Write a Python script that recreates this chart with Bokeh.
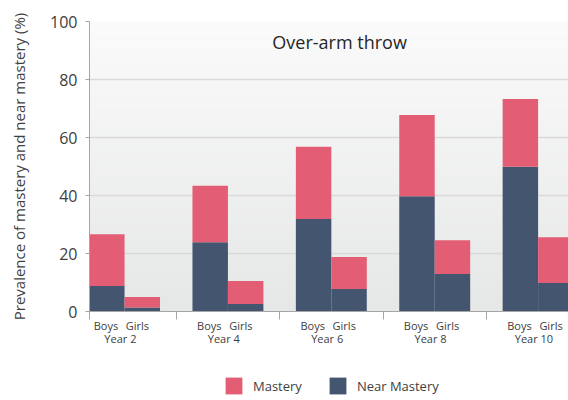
import numpy as np
from bokeh.plotting import figure
from bokeh.layouts import column
from bokeh.models import (ColumnDataSource, LinearAxis, FixedTicker, Range1d,
                          Label, Legend, LegendItem)
from bokeh.embed import file_html
from bokeh.resources import INLINE

# ---------------- data ----------------
years = ["Year 2", "Year 4", "Year 6", "Year 8", "Year 10"]
sexes = ["Boys", "Girls"]
boys_near = [8.8, 23.9, 31.9, 39.7, 49.9]
boys_mastery = [17.8, 19.5, 24.9, 28.1, 23.4]
girls_near = [1.4, 2.6, 7.8, 12.9, 9.8]
girls_mastery = [3.6, 7.9, 11.0, 11.7, 15.8]
y_ticks = [0, 20, 40, 60, 80, 100]
series_names = ["Mastery", "Near Mastery"]
title_text = "Over-arm throw"
y_label = "Prevalence of mastery and near mastery (%)"

# ---------------- style ----------------
PINK = "#E35E75"
NAVY = "#445570"
FONT = "Open Sans"
TXT = "#404040"
AXC = "#a6a6a6"
GRID = "#d9d9d9"

n = len(years)
idx = np.arange(n, dtype=float)
bar_w = 0.343
boys_x = idx - bar_w / 2
girls_x = idx + bar_w / 2

x_all = list(boys_x) + list(girls_x)
near_all = boys_near + girls_near
mast_all = boys_mastery + girls_mastery
top_all = [a + b for a, b in zip(near_all, mast_all)]
src = ColumnDataSource(dict(x=x_all, near=near_all, top=top_all))

xr = Range1d(-0.339, 4.294)
yr = Range1d(0, 100)
p = figure(width=568, height=352, x_range=xr, y_range=yr,
           output_backend="svg", toolbar_location=None,
           x_axis_location=None,
           min_border_left=89, min_border_right=0,
           min_border_top=21, min_border_bottom=41)
p.outline_line_color = None
p.background_fill_color = "white"
p.border_fill_color = "white"

# gradient background of plot area
N = 300
t = np.linspace(0, 1, N)  # 0 bottom -> 1 top
r = (230 + (251 - 230) * t).astype(np.uint8)
g = (231 + (251 - 231) * t).astype(np.uint8)
b = (231 + (251 - 231) * t).astype(np.uint8)
img = np.zeros((N, 1), dtype=np.uint32)
view = img.view(dtype=np.uint8).reshape((N, 1, 4))
view[:, 0, 0] = r
view[:, 0, 1] = g
view[:, 0, 2] = b
view[:, 0, 3] = 255
p.image_rgba(image=[img], x=xr.start, y=yr.start, dw=xr.end - xr.start,
             dh=yr.end - yr.start, level="image")

# bars
r_near = p.vbar(x="x", width=bar_w, bottom=0, top="near", source=src,
                fill_color=NAVY, line_color=None)
r_m = p.vbar(x="x", width=bar_w, bottom="near", top="top", source=src,
             fill_color=PINK, line_color=None)

# grids
p.xgrid.grid_line_color = None
p.ygrid.grid_line_color = GRID
p.ygrid.grid_line_width = 1.5

# y axis
ya = p.yaxis[0]
ya.ticker = FixedTicker(ticks=y_ticks)
ya.axis_line_color = AXC
ya.major_tick_line_color = AXC
ya.major_tick_out = 4
ya.major_tick_in = 0
ya.minor_tick_line_color = None
ya.major_label_standoff = 8
ya.major_label_text_font = FONT
ya.major_label_text_font_size = "16px"
ya.major_label_text_color = TXT
ya.axis_label = y_label
ya.axis_label_text_font = FONT
ya.axis_label_text_font_size = "15px"
ya.axis_label_text_font_style = "normal"
ya.axis_label_text_color = TXT
ya.axis_label_standoff = 18

# x axis: sex labels + group separators
label_pos = []
overrides = {}
for i in range(n):
    pb = float(i - 0.18)
    pg = float(i + 0.125)
    label_pos += [pb, pg]
    overrides[pb] = sexes[0]
    overrides[pg] = sexes[1]
seps = [xr.start] + [i + 0.5 for i in range(n - 1)]
axA = LinearAxis(ticker=FixedTicker(ticks=label_pos, minor_ticks=seps))
axA.major_label_overrides = overrides
axA.axis_line_color = AXC
axA.major_tick_out = 0
axA.major_tick_in = 0
axA.major_tick_line_color = None
axA.minor_tick_out = 8
axA.minor_tick_in = 0
axA.minor_tick_line_color = AXC
axA.major_label_standoff = -2
axA.major_label_text_font = FONT
axA.major_label_text_font_size = "11px"
axA.major_label_text_color = TXT
p.add_layout(axA, "below")

# x axis: year labels
year_pos = [float(i - 0.04) for i in range(n)]
axB = LinearAxis(ticker=FixedTicker(ticks=year_pos, minor_ticks=[]))
axB.major_label_overrides = {yp: yl for yp, yl in zip(year_pos, years)}
axB.axis_line_color = None
axB.major_tick_line_color = None
axB.minor_tick_line_color = None
axB.major_tick_out = 0
axB.major_tick_in = 0
axB.major_label_standoff = -5
axB.major_label_text_font = FONT
axB.major_label_text_font_size = "11px"
axB.major_label_text_color = TXT
p.add_layout(axB, "below")

# chart title inside plot area
p.add_layout(Label(x=2.08, y=92.8, text=title_text, text_font=FONT,
                   text_font_size="18px", text_color="#262626",
                   text_align="center", text_baseline="middle"))

# ---------------- legend strip ----------------
p2 = figure(width=568, height=48, x_range=Range1d(0, 1), y_range=Range1d(0, 1),
            output_backend="svg", toolbar_location=None,
            x_axis_location=None, y_axis_location=None,
            min_border=0)
p2.outline_line_color = None
p2.xgrid.grid_line_color = None
p2.ygrid.grid_line_color = None
p2.background_fill_color = "white"
p2.border_fill_color = "white"
# zero-height proxy bars, used only to draw the legend swatches
proxy = ColumnDataSource(dict(x=[0.5], top=[0.0]))
lm = p2.vbar(x="x", top="top", bottom=0, width=0.0, source=proxy,
             fill_color=PINK, line_color=None)
ln = p2.vbar(x="x", top="top", bottom=0, width=0.0, source=proxy,
             fill_color=NAVY, line_color=None)

legend = Legend(items=[LegendItem(label=series_names[0], renderers=[lm]),
                       LegendItem(label=series_names[1], renderers=[ln])],
                location=(134, 4), orientation="horizontal")
legend.background_fill_alpha = 0
legend.border_line_color = None
legend.padding = 0
legend.margin = 0
legend.spacing = 25
legend.glyph_width = 21
legend.glyph_height = 21
legend.label_standoff = 9
legend.label_text_font = FONT
legend.label_text_font_size = "13px"
legend.label_text_color = TXT
legend.label_text_baseline = "top"
p2.add_layout(legend, "center")

layout = column(p, p2, spacing=0)
open("out.html", "w").write(file_html(layout, INLINE))
